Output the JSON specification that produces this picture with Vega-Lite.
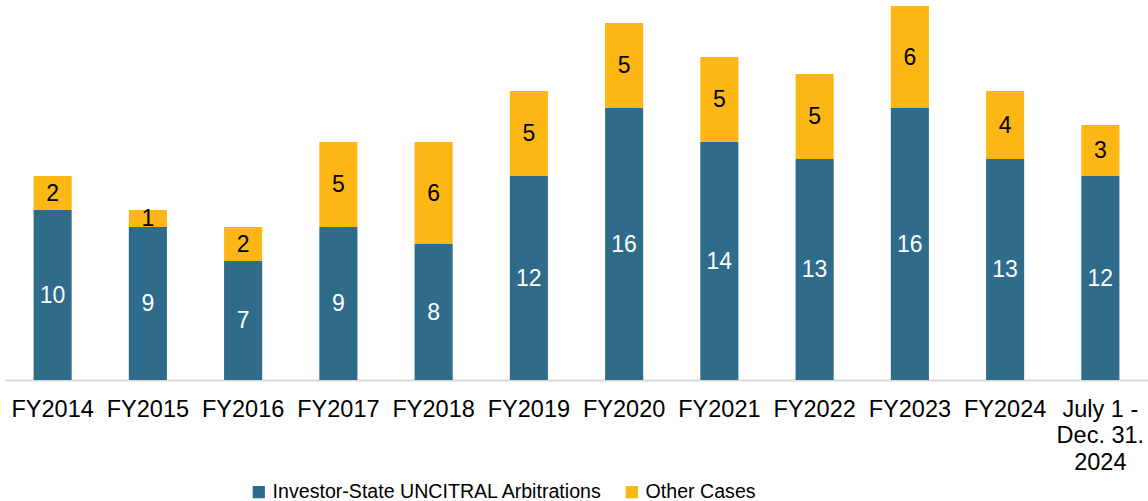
{
  "$schema": "https://vega.github.io/schema/vega-lite/v6.json",
  "width": 1143,
  "height": 380,
  "autosize": {"type": "none"},
  "padding": {"left": 5, "top": 0, "right": 0, "bottom": 121},
  "config": {"view": {"stroke": null}, "font": "Liberation Sans"},
  "data": {
    "values": [
      {"period": "FY2014", "type": "Investor-State UNCITRAL Arbitrations", "k": 1, "n": 10},
      {"period": "FY2014", "type": "Other Cases", "k": 2, "n": 2},
      {"period": "FY2015", "type": "Investor-State UNCITRAL Arbitrations", "k": 1, "n": 9},
      {"period": "FY2015", "type": "Other Cases", "k": 2, "n": 1},
      {"period": "FY2016", "type": "Investor-State UNCITRAL Arbitrations", "k": 1, "n": 7},
      {"period": "FY2016", "type": "Other Cases", "k": 2, "n": 2},
      {"period": "FY2017", "type": "Investor-State UNCITRAL Arbitrations", "k": 1, "n": 9},
      {"period": "FY2017", "type": "Other Cases", "k": 2, "n": 5},
      {"period": "FY2018", "type": "Investor-State UNCITRAL Arbitrations", "k": 1, "n": 8},
      {"period": "FY2018", "type": "Other Cases", "k": 2, "n": 6},
      {"period": "FY2019", "type": "Investor-State UNCITRAL Arbitrations", "k": 1, "n": 12},
      {"period": "FY2019", "type": "Other Cases", "k": 2, "n": 5},
      {"period": "FY2020", "type": "Investor-State UNCITRAL Arbitrations", "k": 1, "n": 16},
      {"period": "FY2020", "type": "Other Cases", "k": 2, "n": 5},
      {"period": "FY2021", "type": "Investor-State UNCITRAL Arbitrations", "k": 1, "n": 14},
      {"period": "FY2021", "type": "Other Cases", "k": 2, "n": 5},
      {"period": "FY2022", "type": "Investor-State UNCITRAL Arbitrations", "k": 1, "n": 13},
      {"period": "FY2022", "type": "Other Cases", "k": 2, "n": 5},
      {"period": "FY2023", "type": "Investor-State UNCITRAL Arbitrations", "k": 1, "n": 16},
      {"period": "FY2023", "type": "Other Cases", "k": 2, "n": 6},
      {"period": "FY2024", "type": "Investor-State UNCITRAL Arbitrations", "k": 1, "n": 13},
      {"period": "FY2024", "type": "Other Cases", "k": 2, "n": 4},
      {"period": "July 1 - Dec. 31. 2024", "type": "Investor-State UNCITRAL Arbitrations", "k": 1, "n": 12},
      {"period": "July 1 - Dec. 31. 2024", "type": "Other Cases", "k": 2, "n": 3}
    ]
  },
  "transform": [
    {"stack": "n", "groupby": ["period"], "sort": [{"field": "k", "order": "ascending"}], "as": ["v0", "v1"]},
    {"calculate": "(datum.v0 + datum.v1) / 2", "as": "mid"}
  ],
  "encoding": {
    "x": {
      "field": "period",
      "type": "nominal",
      "sort": null,
      "title": null,
      "scale": {"paddingInner": 0.6, "paddingOuter": 0.3},
      "axis": {
        "labelAngle": 0,
        "labelFontSize": 23.5,
        "labelColor": "#000000",
        "labelPadding": 17,
        "labelLineHeight": 26.5,
        "ticks": false,
        "domainColor": "#d9d9d9",
        "domainWidth": 2,
        "labelExpr": "datum.value == 'July 1 - Dec. 31. 2024' ? ['July 1 -', 'Dec. 31.', '2024'] : datum.value"
      }
    }
  },
  "layer": [
    {
      "mark": {"type": "bar"},
      "encoding": {
        "y": {"field": "v1", "type": "quantitative", "scale": {"domain": [0, 22.35], "nice": false}, "axis": null},
        "y2": {"field": "v0"},
        "color": {
          "field": "type",
          "type": "nominal",
          "scale": {"domain": ["Investor-State UNCITRAL Arbitrations", "Other Cases"], "range": ["#2F6B8A", "#FDB714"]},
          "legend": {
            "title": null,
            "orient": "none",
            "direction": "horizontal",
            "legendX": 244,
            "legendY": 482,
            "symbolType": "square",
            "symbolSize": 150,
            "symbolStrokeWidth": 0,
            "labelFontSize": 19.6,
            "labelLimit": 0,
            "labelColor": "#000000",
            "labelOffset": 4,
            "columnPadding": 19
          }
        }
      }
    },
    {
      "mark": {"type": "text", "fontSize": 23, "baseline": "middle", "align": "center", "dy": 1},
      "encoding": {
        "y": {"field": "mid", "type": "quantitative"},
        "text": {"field": "n", "type": "quantitative"},
        "color": {"condition": {"test": "datum.k == 2", "value": "#000000"}, "value": "#ffffff"}
      }
    }
  ]
}
